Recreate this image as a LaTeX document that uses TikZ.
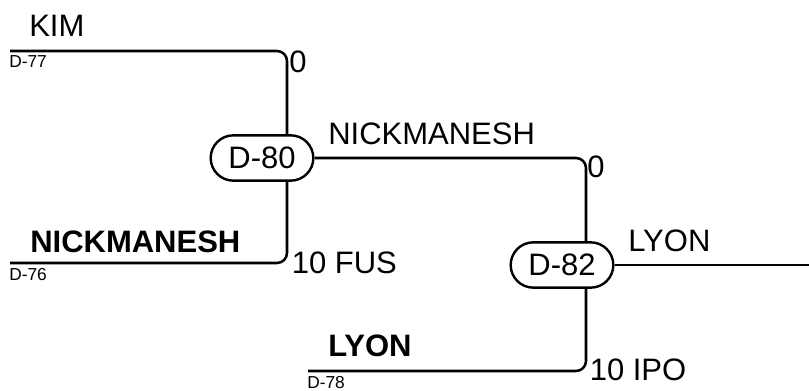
\documentclass[tikz,border=0pt]{standalone}
\usepackage{fontspec}
\setmainfont{Liberation Sans}
\usetikzlibrary{shapes.misc,backgrounds}
\tikzset{
  game/.style={draw,rounded rectangle,fill=white,line width=1.8pt,minimum width=77pt,minimum height=34pt,inner sep=0pt,font=\fontsize{23.25}{26}\selectfont},
  bracket/.style={line width=1.9pt,rounded corners=7.5pt},
  player/.style={anchor=base west,inner sep=0pt,font=\fontsize{23.25}{26}\selectfont},
  winner/.style={player,font=\fontsize{23.25}{26}\selectfont\bfseries},
  seed/.style={anchor=base west,inner sep=0pt,font=\fontsize{13}{15}\selectfont},
  score/.style={player}
}
\begin{document}
\begin{tikzpicture}[x=0.75pt,y=-0.75pt]
  \useasboundingbox (0,0) rectangle (809,391);
  % games
  \node[game] (d80) at (262,158) {D-80};
  \node[game] (d82) at (562,265) {D-82};
  % slots
  \coordinate (kim) at (10,51);
  \coordinate (nick) at (10,263);
  \coordinate (lyon) at (308,371);
  \coordinate (champ) at (809,265);
  \coordinate (j80) at (287,158);
  \coordinate (j82) at (586,265);
  \begin{scope}[on background layer]
    \draw[bracket] (kim) -| (j80);
    \draw[bracket] (nick) -| (j80);
    \draw[bracket] (d80.east) -| (j82);
    \draw[bracket] (lyon) -| (j82);
    \draw[bracket] (d82.east) -- (champ);
  \end{scope}
  % names, seeds and scores
  \node[player] (kimname) at (29,37) {KIM};
  \node[seed] (kimseed) at (9,67.5) {D-77};
  \node[score] (kimscore) at (289,73) {0};
  \node[winner] (nickname) at (30,253) {NICKMANESH};
  \node[seed] (nickseed) at (9,280.5) {D-76};
  \node[score] (nickscore) at (291.5,273) {10 FUS};
  \node[player] (d80name) at (328,145) {NICKMANESH};
  \node[score] (d80score) at (587,178) {0};
  \node[winner] (lyonname) at (328,356) {LYON};
  \node[seed] (lyonseed) at (307,388) {D-78};
  \node[score] (lyonscore) at (589.5,380) {10 IPO};
  \node[player] (d82name) at (628,252) {LYON};
\end{tikzpicture}
\end{document}
